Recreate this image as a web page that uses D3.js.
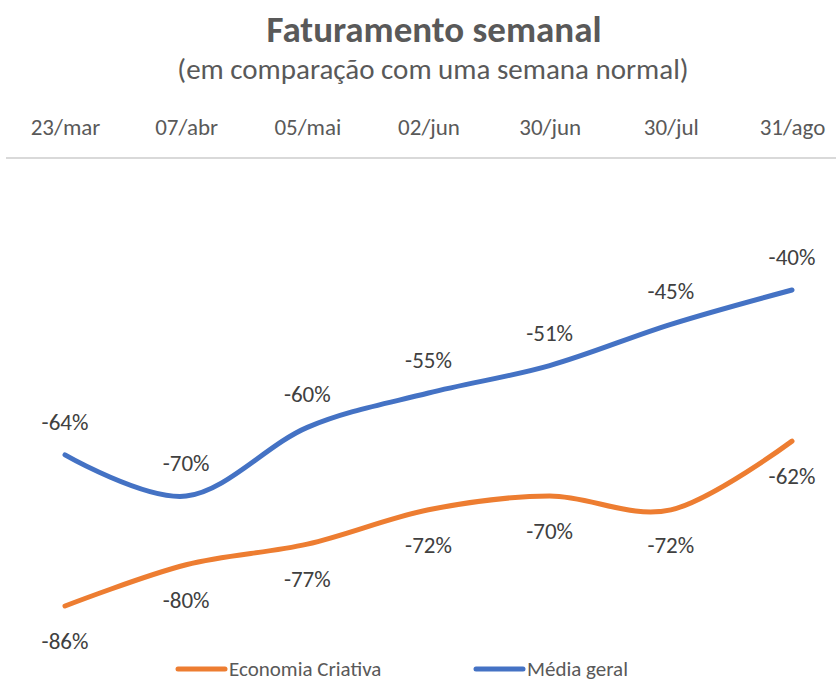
<!DOCTYPE html>
<html>
<head>
<meta charset="utf-8">
<script src="https://cdn.jsdelivr.net/npm/d3@7"></script>
<style>
  body { margin: 0; background: #fff; }
  svg text { font-family: Carlito, Calibri, Lato, sans-serif; }
</style>
</head>
<body>
<script>
'use strict';

// week labels (category axis)
const weeks = ["23/mar", "07/abr", "05/mai", "02/jun", "30/jun", "30/jul", "31/ago"];
// values in percent vs a normal week
const economiaCriativa = [-86, -80, -77, -72, -70, -72, -62];
const mediaGeral = [-64, -70, -60, -55, -51, -45, -40];

const width = 836, height = 683;

const svg = d3.select('body')
  .append('svg')
  .attr('width', width)
  .attr('height', height);

// scales
const x = d3.scalePoint()
  .domain(weeks)
  .range([65, 792]);

const y = d3.scaleLinear()
  .domain([-86, -40])
  .range([606, 290]);

const axisY = 158; // top axis line

// title + subtitle
svg.append('text')
  .attr('x', 434)
  .attr('y', 42)
  .attr('text-anchor', 'middle')
  .style('font-size', '37px')
  .style('font-weight', 'bold')
  .style('fill', '#595959')
  .text('Faturamento semanal');

svg.append('text')
  .attr('x', 433)
  .attr('y', 79)
  .attr('text-anchor', 'middle')
  .style('font-size', '29px')
  .style('fill', '#595959')
  .text('(em comparação com uma semana normal)');

// category axis on top
const xAxis = d3.axisTop(x).tickSize(0).tickPadding(23);
const axisG = svg.append('g')
  .attr('transform', 'translate(0,' + axisY + ')')
  .call(xAxis);
axisG.select('.domain').remove();
axisG.selectAll('text')
  .style('font-size', '23px')
  .style('fill', '#595959')
  .style('font-family', 'Carlito, Calibri, Lato, sans-serif');

svg.append('line')
  .attr('x1', 6)
  .attr('x2', width)
  .attr('y1', axisY)
  .attr('y2', axisY)
  .style('stroke', '#d9d9d9')
  .style('stroke-width', 2);

// series
const series = [
  { name: 'Economia Criativa', values: economiaCriativa, color: '#ed7d31', labelDy: 43 },
  { name: 'Média geral', values: mediaGeral, color: '#4472c4', labelDy: -25 }
];

const line = d3.line()
  .x((d, i) => x(weeks[i]))
  .y(d => y(d))
  .curve(d3.curveCardinal.tension(0));

series.forEach(s => {
  svg.append('path')
    .datum(s.values)
    .attr('d', line)
    .style('fill', 'none')
    .style('stroke', s.color)
    .style('stroke-width', 5)
    .style('stroke-linecap', 'round');

  svg.selectAll(null)
    .data(s.values)
    .enter()
    .append('text')
    .attr('x', (d, i) => x(weeks[i]))
    .attr('y', d => y(d) + s.labelDy)
    .attr('text-anchor', 'middle')
    .style('font-size', '23px')
    .style('fill', '#404040')
    .text(d => d + '%');
});

// legend
const legend = svg.append('g').attr('class', 'legend');
const legendX = [178, 476];
series.forEach((s, i) => {
  legend.append('line')
    .attr('x1', legendX[i])
    .attr('x2', legendX[i] + 47)
    .attr('y1', 669)
    .attr('y2', 669)
    .style('stroke', s.color)
    .style('stroke-width', 5)
    .style('stroke-linecap', 'round');

  legend.append('text')
    .attr('x', legendX[i] + 51)
    .attr('y', 676)
    .style('font-size', '21px')
    .style('fill', '#595959')
    .text(s.name);
});
</script>
</body>
</html>
